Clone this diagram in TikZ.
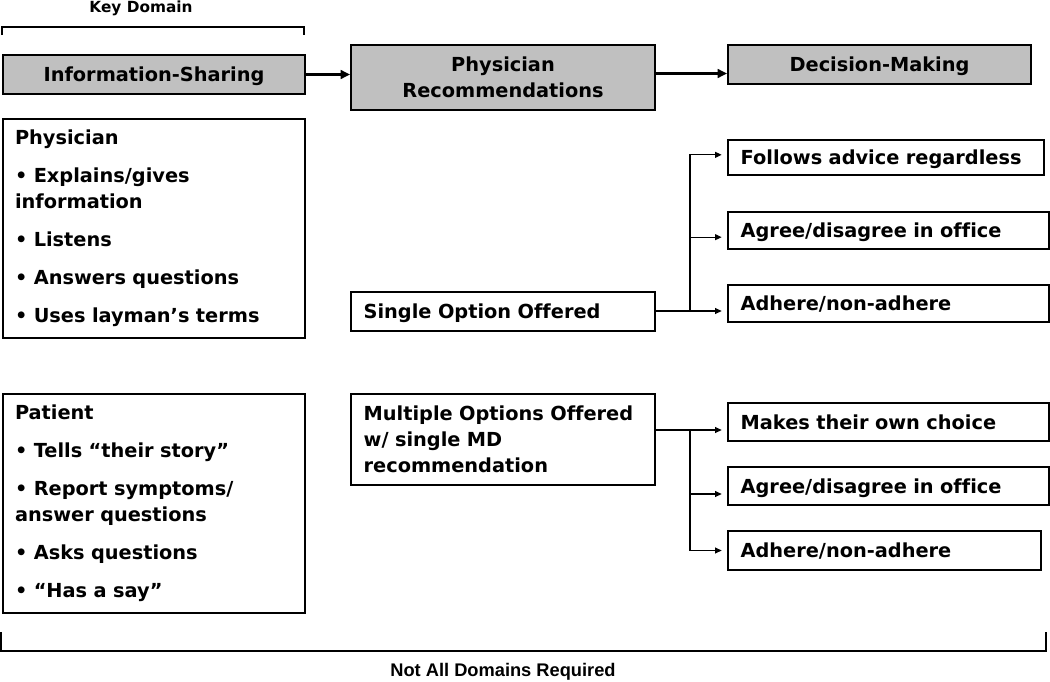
\documentclass[tikz,border=0pt]{standalone}
\usepackage{fontspec}
\setmainfont[Ligatures=NoCommon]{DejaVu Sans}
\newfontfamily\arialfont{Liberation Sans}
\usetikzlibrary{arrows.meta,positioning}
\definecolor{boxgray}{RGB}{192,192,192}
\newcommand{\boxfont}{\bfseries\fontsize{14.5}{19.5}\selectfont}
\tikzset{
  domainbox/.style={draw, line width=1.5pt, fill=boxgray, align=center,
    anchor=north west, inner sep=0pt, font=\boxfont},
  listbox/.style={draw, line width=1.5pt, align=left, anchor=north west,
    inner xsep=9pt, inner ysep=0pt, text width=208.5pt,
    minimum height=164.25pt, font=\boxfont},
  optbox/.style={draw, line width=1.5pt, align=left, anchor=west,
    inner xsep=9.5pt, inner ysep=0pt, text width=#1, font=\boxfont},
  oneline/.style={text depth=0pt},
  mainarrow/.style={line width=2pt, -{Triangle[length=7pt,width=6.5pt]}},
  subarrow/.style={line width=0.8pt, -{Triangle[length=5pt,width=4.5pt]},
    shorten >=4pt},
}
\begin{document}
\begin{tikzpicture}[x=0.75pt,y=-0.75pt]
\useasboundingbox (0,0) rectangle (1050,682);

% Header row of domains
\node[domainbox, oneline, minimum width=226.5pt, minimum height=29.25pt] (info) at (2,54) {Information-Sharing};
\node[domainbox, minimum width=228pt, minimum height=48.75pt] (rec) at (350,44) {Physician\\Recommendations};
\node[domainbox, oneline, minimum width=227.25pt, minimum height=29.25pt] (dec) at (727,44) {Decision-Making};

\draw[mainarrow] (info.east) -- (info.east -| rec.west);
\draw[mainarrow] ([yshift=3pt]rec.east) -- ([yshift=3pt]rec.east -| dec.west);

% Key domain bracket
\node[font=\bfseries\fontsize{11.5}{13}\selectfont] (key) at (141,8) {Key Domain};
\draw[line width=0.8pt] (2,35) -- (2,27) -- (304,27) -- (304,35);

% Information-sharing lists
\node[listbox] (physician) at (2,118) {Physician\\[9pt]
  • Explains/gives\\information\\[9pt]
  • Listens\\[9pt]
  • Answers questions\\[9pt]
  • Uses layman’s terms};
\node[listbox] (patient) at (2,393) {Patient\\[9pt]
  • Tells “their story”\\[9pt]
  • Report symptoms/\\answer questions\\[9pt]
  • Asks questions\\[9pt]
  • “Has a say”};

% Recommendations
\node[optbox=209pt, oneline, minimum height=29.25pt] (single) at (350,311.5) {Single Option Offered};
\node[optbox=209pt, minimum height=68.25pt, anchor=north west] (multiple) at (350,393)
  {Multiple Options Offered\\w/ single MD\\recommendation};

% Decision-making outcomes
\node[optbox=218pt, oneline, minimum height=26.25pt] (follows) at (727,157.5) {Follows advice regardless};
\node[optbox=221.75pt, oneline, minimum height=27.75pt] (agreeA) at (727,230.5) {Agree/disagree in office};
\node[optbox=221.75pt, oneline, minimum height=27.75pt] (adhereA) at (727,303.5) {Adhere/non-adhere};
\node[optbox=221.75pt, oneline, minimum height=28.5pt] (makes) at (727,422) {Makes their own choice};
\node[optbox=221.75pt, oneline, minimum height=28.5pt] (agreeB) at (727,486) {Agree/disagree in office};
\node[optbox=215.75pt, oneline, minimum height=29.25pt] (adhereB) at (727,550.5) {Adhere/non-adhere};

% Branching connectors
\coordinate (splitA) at (690,311);
\coordinate (splitB) at (690,430);
\draw[line width=0.8pt] (single.east |- splitA) -- (splitA);
\draw[subarrow] (splitA) |- ([yshift=2pt]follows.west);
\draw[subarrow] (splitA) |- ([yshift=-5pt]agreeA.west);
\draw[subarrow] (splitA) -- (splitA -| adhereA.west);
\draw[line width=0.8pt] (multiple.east |- splitB) -- (splitB);
\draw[subarrow] (splitB) -- (splitB -| makes.west);
\draw[subarrow] (splitB) |- ([yshift=-6pt]agreeB.west);
\draw[subarrow] (splitB) |- (adhereB.west);

% Bottom bracket
\draw[line width=1.2pt] (1,632) -- (1,651) -- (1046,651) -- (1046,632);
\node[font=\arialfont\bfseries\fontsize{13.7}{15}\selectfont] (notall) at (503,672) {Not All Domains Required};
\end{tikzpicture}
\end{document}
